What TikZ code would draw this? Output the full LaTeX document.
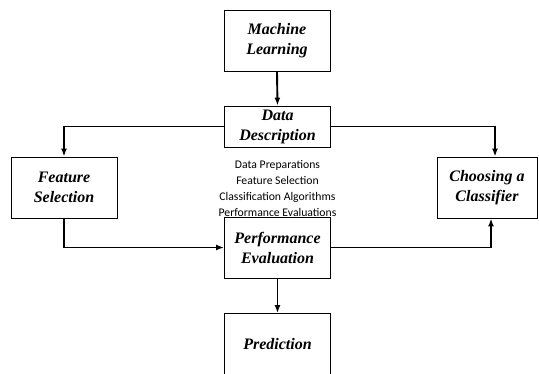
\documentclass[tikz,border=0pt]{standalone}
\usepackage{fontspec}
\setmainfont{Liberation Serif}
\newfontfamily\listfont{Carlito}
\usetikzlibrary{arrows.meta}
\tikzset{
    blockbox/.style={draw,line width=0.9pt,minimum width=106pt,minimum height=61pt,
        inner sep=2pt,align=center,font=\fontsize{16}{20}\selectfont\bfseries\itshape},
    flowline/.style={line width=1.9pt,-{Latex[length=8pt,width=6pt]}}
}
\begin{document}
\begin{tikzpicture}[x=1pt,y=-1pt]
    \useasboundingbox (0,0) rectangle (539,373);
    \clip (0,0) rectangle (539,373);

    % blocks
    \node[blockbox] (ml) at (277,41) {Machine\\Learning};
    \node[blockbox,minimum height=41pt] (dd) at (277.5,126.5) {Data\\Description};
    \node[blockbox] (fs) at (64,187.5) {Feature\\Selection};
    \node[blockbox,minimum width=100pt] (cc) at (487,187.5) {Choosing a\\Classifier};
    \node[blockbox] (pe) at (277.5,247.5) {Performance\\Evaluation};
    \node[blockbox] (pr) at (277.5,344) {Prediction};

    % steps listed under the description
    \node[align=center,font=\listfont\fontsize{11.7}{16}\selectfont] (steps) at (277.5,188)
        {Data Preparations\\Feature Selection\\Classification Algorithms\\Performance Evaluations};

    % connectors
    \draw[flowline] (ml.south) -- (dd.north);
    \draw[flowline] (dd.west) -| (fs.north);
    \draw[flowline] (dd.east) -| ([xshift=8pt]cc.north);
    \draw[flowline] (fs.south) |- (pe.west);
    \draw[flowline] (pe.east) -| ([xshift=4pt]cc.south);
    \draw[flowline] (pe.south) -- (pr.north);
\end{tikzpicture}
\end{document}
